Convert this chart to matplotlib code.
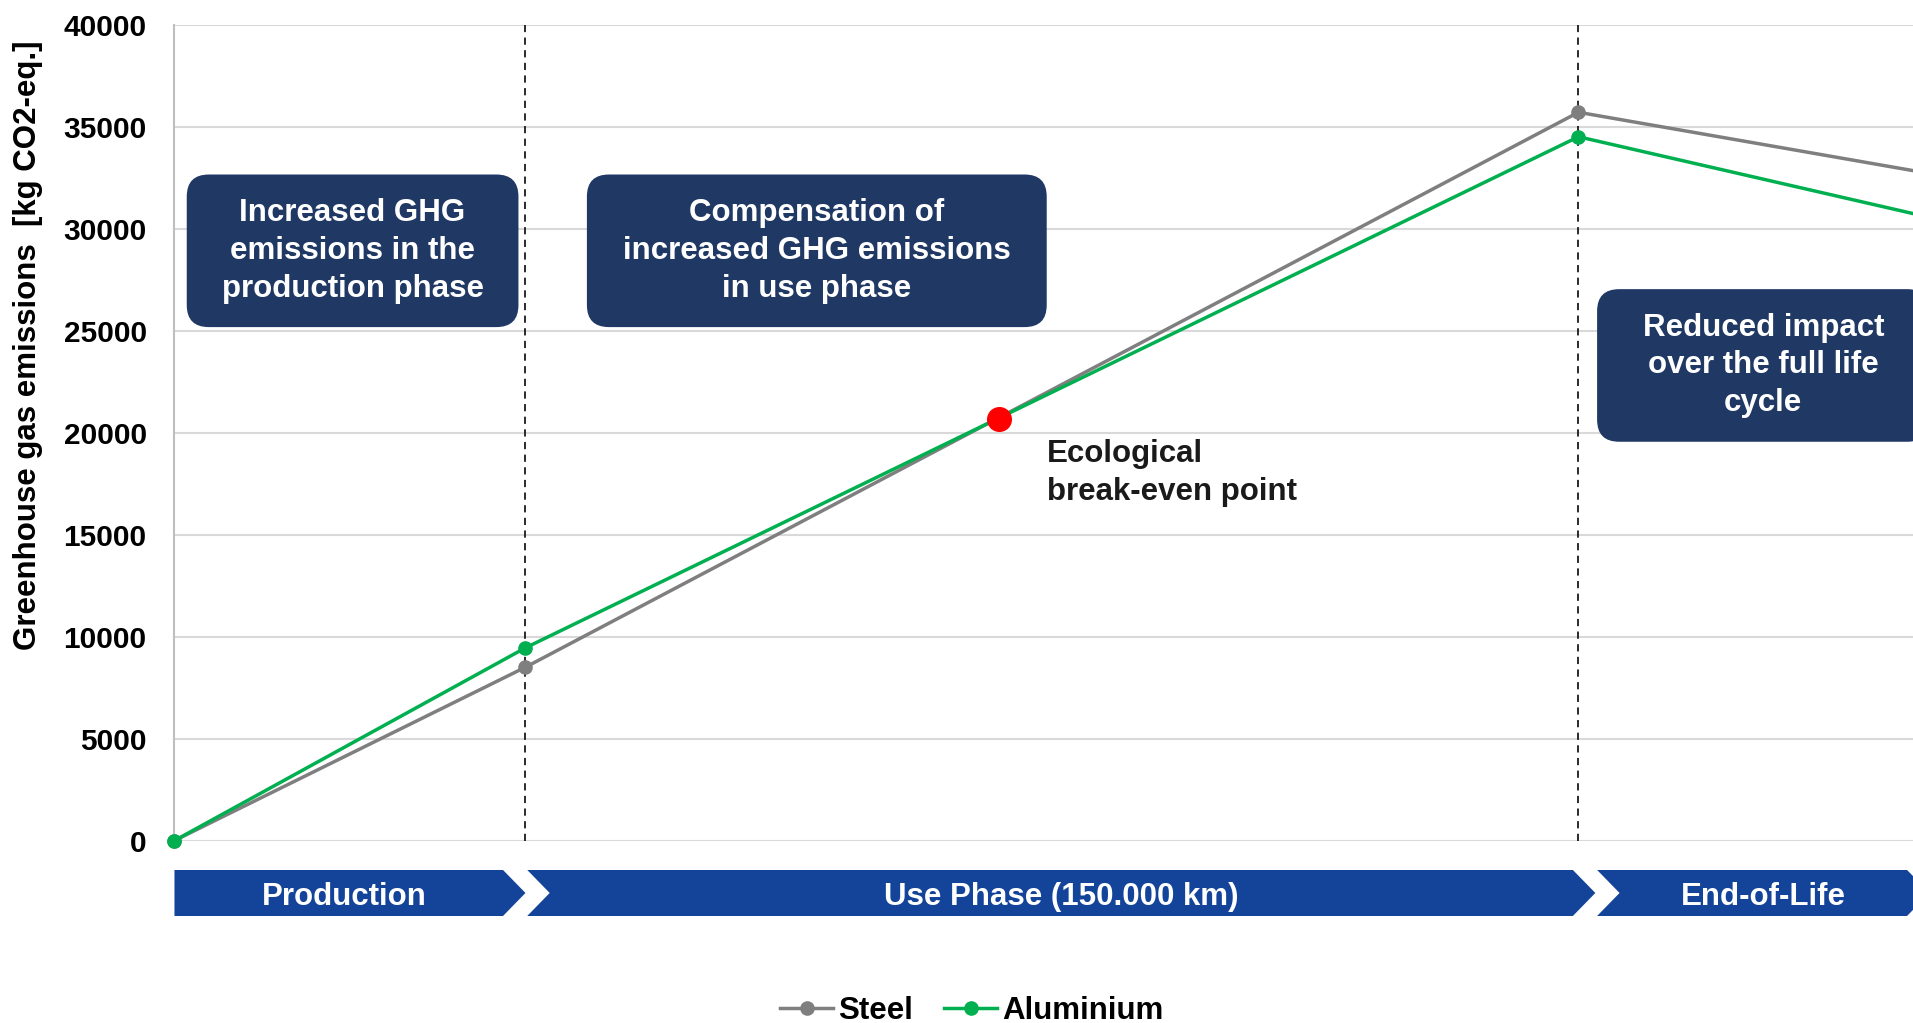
import matplotlib.pyplot as plt
from matplotlib.patches import FancyBboxPatch, Polygon

plt.rcParams['font.family'] = ['Liberation Sans', 'DejaVu Sans']
plt.rcParams['font.weight'] = 'bold'
plt.rcParams['axes.labelweight'] = 'bold'

# x positions of the life-cycle stages: start, end of production, end of use, end of life
stage_pos = [0, 1, 4, 5]
steel = [0, 8500, 35700, 32700]
aluminium = [0, 9450, 34500, 30550]
breakeven_x = 2.35
breakeven_y = 20650

yticks = [0, 5000, 10000, 15000, 20000, 25000, 30000, 35000, 40000]

phase_names = ['Production', 'Use Phase (150.000 km)', 'End-of-Life']
phase_start = [0, 1.005, 4.053]
phase_end = [1.0, 4.048, 5.0]

box_texts = ['Increased GHG\nemissions in the\nproduction phase',
             'Compensation of\nincreased GHG emissions\nin use phase',
             'Reduced impact\nover the full life\ncycle']
box_x0 = [0.035, 1.175, 4.053]
box_x1 = [0.98, 2.485, 5.0]
box_y0 = [25170, 25170, 19550]
box_y1 = [32650, 32650, 27030]

GRAY = '#7f7f7f'
GREEN = '#00b050'
NAVY = '#1f3864'
BANNER = '#14449a'
FS = 22.5
LS = 1.34

fig = plt.figure(figsize=(19.13, 10.23), dpi=100)
ax = fig.add_axes([0.0912, 0.1783, 0.9088, 0.7977])

ax.plot(stage_pos, steel, color=GRAY, lw=2.5, marker='o', ms=9.5,
        label='Steel', clip_on=False, zorder=3)
ax.plot(stage_pos, aluminium, color=GREEN, lw=2.5, marker='o', ms=9.5,
        label='Aluminium', clip_on=False, zorder=4)
ax.plot([breakeven_x], [breakeven_y], 'o', color='#ff0000', ms=17, zorder=5)
ax.text(breakeven_x + 0.135, breakeven_y - 2650, 'Ecological\nbreak-even point',
        fontsize=FS, color='#1a1a1a', ha='left', va='center', linespacing=LS)

for xv in stage_pos[1:3]:
    ax.axvline(xv, color='#1a1a1a', lw=1.3, ls=(0, (4, 3)), zorder=2)

ax.set_xlim(0, 4.953)
ax.set_ylim(0, 40000)
ax.set_yticks(yticks)
ax.set_xticks([])
ax.grid(axis='y', color='#d9d9d9', lw=1.5, zorder=0)
ax.set_axisbelow(True)
for s in ['top', 'right', 'bottom']:
    ax.spines[s].set_visible(False)
ax.spines['left'].set_color('#bfbfbf')
ax.spines['left'].set_linewidth(1.5)
ax.tick_params(axis='y', length=0, pad=20, labelsize=21.5)
ax.set_ylabel('Greenhouse gas emissions  [kg CO2-eq.]', fontsize=FS,
              fontweight='bold')
ax.yaxis.set_label_coords(-0.0758, 0.607)

# rounded annotation boxes (aspect correction so corners stay round)
aspect = 1078 / 0.063
for txt, x0, x1, y0, y1 in zip(box_texts, box_x0, box_x1, box_y0, box_y1):
    patch = FancyBboxPatch((x0, y0), x1 - x0, y1 - y0,
                           boxstyle='round,pad=0,rounding_size=0.063',
                           mutation_aspect=aspect, fc=NAVY, ec='none', zorder=6)
    ax.add_patch(patch)
    ax.text((x0 + x1) / 2, (y0 + y1) / 2, txt, color='white', fontsize=FS,
            ha='center', va='center', linespacing=LS, zorder=7)

# phase banner below the chart
bax = fig.add_axes([0.0912, 0.1046, 0.9088, 0.045], sharex=ax)
bax.set_ylim(0, 1)
bax.axis('off')
d = 0.064
for i, (name, s, e) in enumerate(zip(phase_names, phase_start, phase_end)):
    pts = [(s, 0), (e - d, 0), (e, 0.5), (e - d, 1), (s, 1)]
    if i > 0:
        pts.append((s + d, 0.5))
    bax.add_patch(Polygon(pts, closed=True, fc=BANNER, ec='none'))
    left = s + d if i > 0 else s + d / 2
    bax.text((left + e - d) / 2, 0.42, name, color='white', fontsize=FS,
             ha='center', va='center')

fig.legend(handles=ax.get_lines()[:2], loc='center', bbox_to_anchor=(0.508, 0.012),
           ncol=2, frameon=False, fontsize=FS, handlelength=1.7,
           handletextpad=0.15, columnspacing=1.0)

fig.savefig('out.png', dpi=100)
